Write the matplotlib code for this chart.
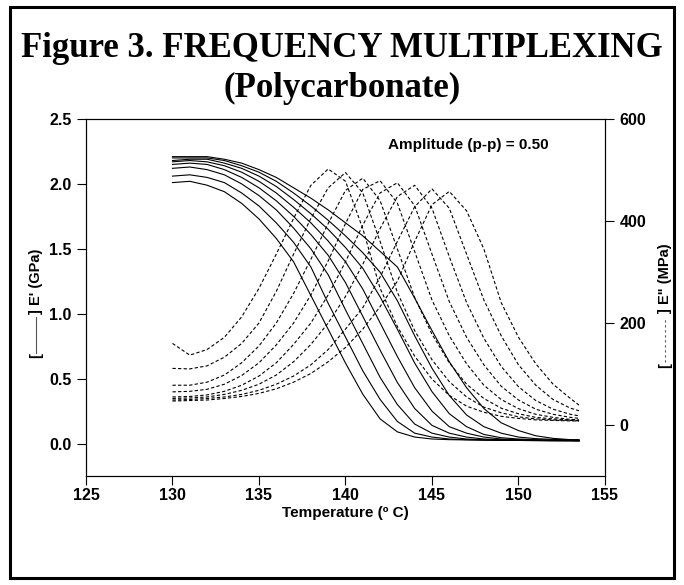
import numpy as np
import matplotlib
matplotlib.use('Agg')
import matplotlib.pyplot as plt
from matplotlib.patches import Rectangle
from matplotlib.lines import Line2D

# temperature grid (deg C), shared by all sixteen traces
temps = [130, 131, 132, 133, 134, 135, 136, 137, 138, 139, 140, 141, 142,
         143, 144, 145, 146, 147, 148, 149, 150, 151, 152, 153, 153.5]

# storage modulus E' (GPa), one trace per frequency, lowest frequency first
e_store_0 = [2.01, 2.02, 1.99, 1.94, 1.85, 1.73, 1.58, 1.40, 1.14, 0.88, 0.62, 0.38, 0.19,
             0.09, 0.05, 0.035, 0.03, 0.028, 0.026, 0.025, 0.024, 0.023, 0.022, 0.022, 0.021]
e_store_1 = [2.06, 2.07, 2.05, 2.01, 1.93, 1.83, 1.70, 1.55, 1.36, 1.08, 0.82, 0.56, 0.34,
             0.17, 0.08, 0.05, 0.035, 0.03, 0.027, 0.025, 0.024, 0.023, 0.022, 0.022, 0.021]
e_store_2 = [2.12, 2.13, 2.11, 2.07, 2.00, 1.91, 1.80, 1.66, 1.50, 1.30, 1.03, 0.77, 0.51,
             0.30, 0.15, 0.08, 0.05, 0.035, 0.03, 0.027, 0.025, 0.024, 0.023, 0.022, 0.022]
e_store_3 = [2.15, 2.16, 2.15, 2.11, 2.05, 1.97, 1.87, 1.75, 1.61, 1.45, 1.24, 0.98, 0.72,
             0.47, 0.27, 0.14, 0.08, 0.05, 0.035, 0.03, 0.027, 0.025, 0.024, 0.023, 0.022]
e_store_4 = [2.17, 2.18, 2.17, 2.14, 2.09, 2.02, 1.93, 1.82, 1.70, 1.56, 1.40, 1.19, 0.93,
             0.67, 0.43, 0.25, 0.13, 0.08, 0.05, 0.035, 0.03, 0.027, 0.025, 0.024, 0.023]
e_store_5 = [2.18, 2.19, 2.19, 2.16, 2.12, 2.06, 1.98, 1.88, 1.77, 1.65, 1.51, 1.35, 1.13,
             0.88, 0.62, 0.40, 0.23, 0.13, 0.07, 0.045, 0.035, 0.03, 0.027, 0.025, 0.024]
e_store_6 = [2.20, 2.20, 2.20, 2.18, 2.14, 2.09, 2.02, 1.93, 1.83, 1.72, 1.60, 1.47, 1.32,
             1.10, 0.83, 0.58, 0.37, 0.22, 0.13, 0.08, 0.05, 0.038, 0.032, 0.028, 0.027]
e_store_7 = [2.21, 2.21, 2.21, 2.19, 2.16, 2.11, 2.05, 1.97, 1.89, 1.80, 1.70, 1.60, 1.48,
             1.36, 1.12, 0.87, 0.63, 0.43, 0.27, 0.16, 0.10, 0.06, 0.04, 0.03, 0.03]

# loss modulus E'' (MPa)
e_loss_0 = [160, 137, 148, 172, 212, 268, 335, 405, 470, 502, 478, 385, 268,
            193, 135, 90, 58, 37, 25, 17, 13, 10, 9, 8, 8]
e_loss_1 = [111, 110, 116, 133, 160, 200, 262, 335, 405, 465, 495, 455, 360,
            260, 185, 128, 85, 55, 35, 24, 16, 12, 10, 9, 8]
e_loss_2 = [78, 78, 84, 98, 122, 155, 200, 258, 325, 395, 460, 484, 440,
            345, 250, 178, 122, 80, 52, 33, 22, 15, 12, 10, 9]
e_loss_3 = [65, 66, 70, 80, 97, 122, 157, 200, 255, 322, 395, 462, 479,
            435, 340, 245, 175, 120, 78, 50, 32, 21, 15, 11, 10]
e_loss_4 = [55, 56, 59, 66, 78, 96, 122, 158, 200, 255, 320, 392, 455,
            475, 430, 335, 242, 172, 118, 76, 49, 31, 21, 15, 13]
e_loss_5 = [52, 53, 55, 60, 68, 80, 98, 124, 158, 200, 252, 315, 385,
            448, 470, 425, 330, 240, 170, 115, 75, 48, 31, 21, 18]
e_loss_6 = [49, 50, 52, 55, 60, 68, 80, 96, 118, 148, 188, 230, 290,
            360, 428, 463, 425, 335, 245, 175, 118, 78, 50, 33, 28]
e_loss_7 = [47, 48, 49, 52, 56, 62, 71, 84, 101, 124, 152, 188, 232,
            282, 360, 432, 458, 420, 345, 240, 172, 120, 80, 52, 39]

e_store = [e_store_0, e_store_1, e_store_2, e_store_3,
           e_store_4, e_store_5, e_store_6, e_store_7]
e_loss = [e_loss_0, e_loss_1, e_loss_2, e_loss_3,
          e_loss_4, e_loss_5, e_loss_6, e_loss_7]

x_ticks = [125, 130, 135, 140, 145, 150, 155]
left_ticks = [0.0, 0.5, 1.0, 1.5, 2.0, 2.5]
right_ticks = [0, 200, 400, 600]

plt.rcParams['font.family'] = 'Liberation Sans'
plt.rcParams['font.weight'] = 'bold'

fig = plt.figure(figsize=(6.84, 5.85), dpi=100)
ax = fig.add_axes([0.1257, 0.1863, 0.7588, 0.6103])
ax2 = ax.twinx()

for ys in e_store:
    ax.plot(temps, ys, color='black', lw=0.8)
for ys in e_loss:
    ax2.plot(temps, ys, color='black', lw=0.8, linestyle=(0, (3, 2)))

ax.set_xlim(125, 155)
ax.set_ylim(-0.25, 2.5)
ax2.set_ylim(-100, 600)
ax.set_xticks(x_ticks)
ax.set_yticks(left_ticks)
ax.set_yticklabels(['%.1f' % v for v in left_ticks])
ax2.set_yticks(right_ticks)

for a in (ax, ax2):
    for sp in a.spines.values():
        sp.set_linewidth(0.8)
    a.tick_params(direction='out', length=6.5, width=0.8, labelsize=11.5, pad=4)
ax.tick_params(axis='x', pad=2)

ax.set_xlabel('Temperature (\u00ba C)', fontsize=11, fontweight='bold', labelpad=2)

ax.text(147.1, 2.3, 'Amplitude (p-p) = 0.50', ha='center', va='center',
        fontsize=11, fontweight='bold')

# y labels with their line-style keys
fig.text(0.0526, 0.388, '[', rotation=90, ha='center', va='bottom', fontsize=10.5)
fig.add_artist(Line2D([0.0526, 0.0526], [0.3966, 0.4581], color='#555555', lw=0.8,
                      transform=fig.transFigure))
fig.text(0.0526, 0.4632, "] E' (GPa)", rotation=90, ha='center', va='bottom', fontsize=10.5)

fig.text(0.972, 0.371, '[', rotation=90, ha='center', va='bottom', fontsize=10.5)
fig.add_artist(Line2D([0.972, 0.972], [0.381, 0.4564], color='#555555', lw=0.8,
                      linestyle=(0, (2, 2.5)), transform=fig.transFigure))
fig.text(0.972, 0.465, '] E" (MPa)', rotation=90, ha='center', va='bottom', fontsize=10.5)

# title
fig.text(0.5, 0.9026, 'Figure 3. FREQUENCY MULTIPLEXING', ha='center', va='baseline',
         family='Liberation Serif', fontsize=25, fontweight='bold')
fig.text(0.5, 0.834, '(Polycarbonate)', ha='center', va='baseline',
         family='Liberation Serif', fontsize=25, fontweight='bold')

# outer frame
fig.add_artist(Rectangle((0.0146, 0.012), 0.971, 0.976, transform=fig.transFigure,
                         fill=False, ec='black', lw=2.2))

fig.savefig('out.png', dpi=100)
